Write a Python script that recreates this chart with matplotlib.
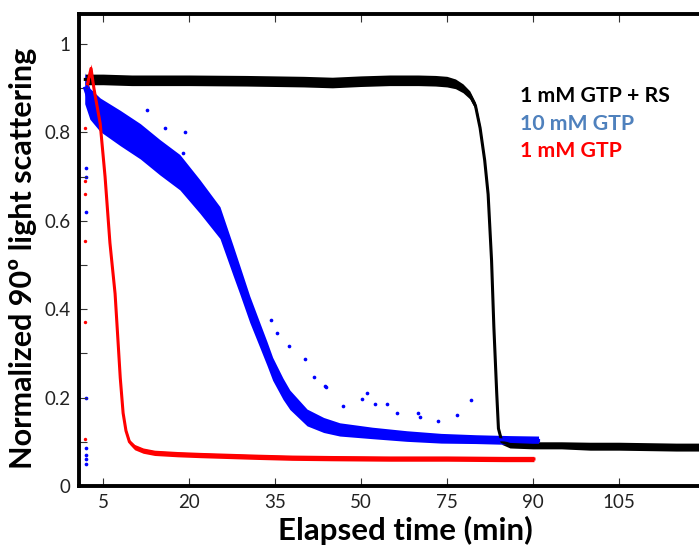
import matplotlib
matplotlib.use("Agg")
import matplotlib.pyplot as plt
from matplotlib.ticker import MultipleLocator, FormatStrFormatter

plt.rcParams["font.family"] = ["Lato", "DejaVu Sans"]

# x positions in plot units; the printed tick labels are kept as in the original figure
tick_pos = [5, 20, 35, 50, 65, 80, 95]
tick_lab = ["5", "20", "35", "50", "75", "90", "105"]

# 1 mM GTP + RS (black)
bk_t = [1.9, 5, 10, 20, 30, 40, 45, 50, 55, 60, 63, 65, 66.5, 67.8, 69.0, 70.0, 70.8,
        71.6, 72.2, 72.8, 73.2, 73.7, 74.0, 74.6, 76, 80, 85, 90, 95, 100, 105, 109]
bk_y = [0.92, 0.92, 0.918, 0.918, 0.917, 0.915, 0.913, 0.916, 0.918, 0.918, 0.917, 0.915,
        0.91, 0.90, 0.885, 0.86, 0.81, 0.737, 0.66, 0.51, 0.36, 0.21, 0.13, 0.10, 0.094,
        0.092, 0.092, 0.09, 0.09, 0.089, 0.088, 0.088]
bk_h = [0.012, 0.012, 0.012, 0.012, 0.012, 0.012, 0.012, 0.012, 0.012, 0.012, 0.012, 0.012,
        0.011, 0.01, 0.009, 0.008, 0.006, 0.004, 0.003, 0.003, 0.003, 0.003, 0.004, 0.006,
        0.008, 0.008, 0.008, 0.009, 0.009, 0.009, 0.009, 0.009]

# 10 mM GTP (blue)
bl_t = [1.8, 2.7, 4.5, 8.0, 11.5, 14.9, 18.4, 21.9, 25.4, 27.7, 28.9, 30.6, 32.4, 33.6,
        34.6, 36.4, 37.6, 40.6, 43.5, 46.3, 52, 58, 64, 70, 76, 81]
bl_y = [0.90, 0.865, 0.84, 0.81, 0.78, 0.744, 0.71, 0.655, 0.596, 0.51, 0.465, 0.40, 0.34,
        0.30, 0.265, 0.22, 0.195, 0.155, 0.138, 0.128, 0.12, 0.113, 0.108, 0.106, 0.104, 0.103]
bl_h = [0.035, 0.035, 0.038, 0.04, 0.04, 0.04, 0.04, 0.038, 0.036, 0.034, 0.032, 0.03,
        0.028, 0.027, 0.026, 0.024, 0.022, 0.019, 0.017, 0.015, 0.013, 0.012, 0.011, 0.01,
        0.01, 0.01]
bl_out_t = [12.7, 15.8, 19.3, 19.0, 34.3, 35.3, 37.4, 40.2, 41.8, 43.7, 43.9, 46.9, 50.2,
            51.0, 52.4, 54.5, 56.3, 59.9, 60.3, 63.4, 66.7, 69.2]
bl_out_y = [0.85, 0.81, 0.80, 0.753, 0.376, 0.347, 0.317, 0.288, 0.247, 0.227, 0.224, 0.181,
            0.197, 0.211, 0.186, 0.186, 0.166, 0.166, 0.156, 0.147, 0.161, 0.195]
bl_start_y = [0.72, 0.70, 0.62, 0.20, 0.085, 0.07, 0.06, 0.05]

# 1 mM GTP (red)
rd_t = [2.3, 2.9, 3.4, 4.5, 5.35, 6.2, 7.1, 7.6, 8.0, 8.5, 9.0, 9.6, 10.5, 12, 14, 18, 22,
        27, 32, 38, 45, 55, 65, 75, 80.2]
rd_y = [0.91, 0.945, 0.90, 0.82, 0.70, 0.55, 0.435, 0.33, 0.245, 0.165, 0.125, 0.10, 0.088,
        0.08, 0.075, 0.072, 0.07, 0.068, 0.066, 0.064, 0.063, 0.062, 0.062, 0.061, 0.061]
rd_h = [0.01, 0.01, 0.006, 0.004, 0.003, 0.003, 0.003, 0.003, 0.003, 0.003, 0.004, 0.005,
        0.006, 0.006, 0.006, 0.006, 0.006, 0.006, 0.006, 0.006, 0.006, 0.006, 0.006, 0.006, 0.006]
rd_start_y = [0.81, 0.69, 0.66, 0.555, 0.37, 0.107]

fig = plt.figure(figsize=(6.99, 5.52), dpi=100)
ax = fig.add_axes([0.113, 0.1196, 0.887, 0.855])

series = [(bk_t, bk_y, bk_h, "black"), (bl_t, bl_y, bl_h, "#0000ff"), (rd_t, rd_y, rd_h, "#ff0000")]
for t, y, h, c in series:
    lo = [a - b for a, b in zip(y, h)]
    hi = [a + b for a, b in zip(y, h)]
    ax.fill_between(t, lo, hi, color=c, lw=0)
    ax.plot(t, y, color=c, lw=2.2)

ax.scatter(bl_out_t, bl_out_y, s=7, color="#0000ff", lw=0)
ax.scatter([2.0] * len(bl_start_y), bl_start_y, s=7, color="#0000ff", lw=0)
ax.scatter([1.9] * len(rd_start_y), rd_start_y, s=6, color="#ff0000", lw=0)

ax.set_xlim(0.8, 109)
ax.set_ylim(0, 1.068)
ax.set_xticks(tick_pos)
ax.set_xticklabels(tick_lab)
ax.yaxis.set_major_locator(MultipleLocator(0.2))
ax.yaxis.set_minor_locator(MultipleLocator(0.1))
ax.yaxis.set_major_formatter(FormatStrFormatter("%g"))
ax.tick_params(axis="both", which="both", direction="in", length=6, width=0.8,
               labelsize=13.5, colors="#333333", labelcolor="#222222")
ax.tick_params(axis="x", top=True, pad=6)
ax.tick_params(axis="y", pad=6)

for s in ["left", "top", "bottom"]:
    ax.spines[s].set_linewidth(2.8)
ax.spines["right"].set_visible(False)

ax.text(0.526, -0.095, "Elapsed time (min)", transform=ax.transAxes, ha="center",
        va="center", fontsize=22.5, fontweight="bold")
ax.text(-0.09, 0.483, "Normalized 90º light scattering", transform=ax.transAxes,
        ha="center", va="center", rotation=90, fontsize=22, fontweight="bold")

leg = [("1 mM GTP + RS", "black", 0.826), ("10 mM GTP", "#4f81bd", 0.767),
       ("1 mM GTP", "#ff0000", 0.710)]
for txt, c, yy in leg:
    ax.text(0.711, yy, txt, transform=ax.transAxes, color=c, fontsize=15.3,
            fontweight="bold", va="center", ha="left")

fig.savefig("out.png", dpi=100)
